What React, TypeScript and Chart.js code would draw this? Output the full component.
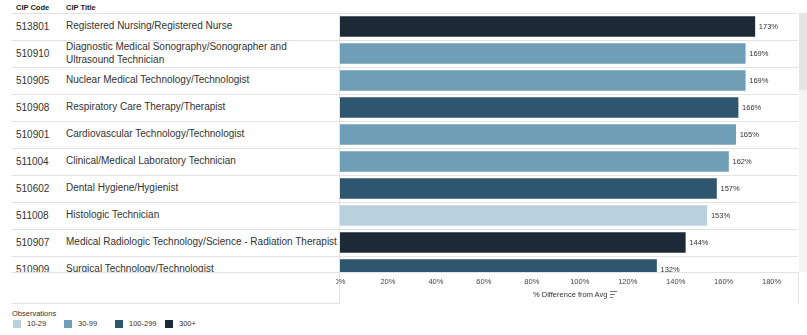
import React, { useEffect, useRef } from "react";
import { Chart, registerables } from "chart.js";

Chart.register(...registerables);

// Programs ranked by % difference from the average
const cipCodes = ["513801", "510910", "510905", "510908", "510901", "511004", "510602", "511008", "510907", "510909"];
const cipTitles = [
  "Registered Nursing/Registered Nurse",
  "Diagnostic Medical Sonography/Sonographer and\nUltrasound Technician",
  "Nuclear Medical Technology/Technologist",
  "Respiratory Care Therapy/Therapist",
  "Cardiovascular Technology/Technologist",
  "Clinical/Medical Laboratory Technician",
  "Dental Hygiene/Hygienist",
  "Histologic Technician",
  "Medical Radiologic Technology/Science - Radiation Therapist",
  "Surgical Technology/Technologist",
];
const pctDiffFromAvg = [173, 169, 169, 166, 165, 162, 157, 153, 144, 132];
const observationBands = ["300+", "30-99", "30-99", "100-299", "30-99", "30-99", "100-299", "10-29", "300+", "100-299"];
const bandLabels = ["10-29", "30-99", "100-299", "300+"];
const bandColors = ["#b9d1dd", "#6f9eb7", "#2e566e", "#1b2a36"];
const xTickValues = [0, 20, 40, 60, 80, 100, 120, 140, 160, 180];

const FONT = '"Liberation Sans", Arial, Helvetica, sans-serif';
const ROW_H = 27;
const VIEW_H = 259;
const LINE = "#e3e3e3";

const valueLabels = {
  id: "valueLabels",
  afterDatasetsDraw(chart: any) {
    const { ctx, chartArea } = chart;
    ctx.save();
    ctx.beginPath();
    ctx.rect(chartArea.left, chartArea.top, chartArea.right - chartArea.left, chartArea.bottom - chartArea.top);
    ctx.clip();
    ctx.font = `7.5px ${FONT}`;
    ctx.fillStyle = "#333";
    ctx.textAlign = "left";
    ctx.textBaseline = "middle";
    chart.getDatasetMeta(0).data.forEach((bar: any, i: number) => {
      ctx.fillText(`${pctDiffFromAvg[i]}%`, bar.x + 4, bar.y + 0.5);
    });
    ctx.restore();
  },
};

function SortIcon() {
  return (
    <svg width="8" height="7" style={{ marginLeft: 3, verticalAlign: "-1px" }}>
      <rect x="0" y="0" width="7" height="1" fill="#777" />
      <rect x="0" y="3" width="5" height="1" fill="#777" />
      <rect x="0" y="6" width="3" height="1" fill="#777" />
    </svg>
  );
}

export default function App() {
  const canvasRef = useRef<HTMLCanvasElement | null>(null);

  useEffect(() => {
    if (!canvasRef.current) return;
    Chart.defaults.font.family = FONT;
    const chart = new Chart(canvasRef.current, {
      type: "bar",
      data: {
        datasets: [
          {
            data: pctDiffFromAvg.map((v, i) => ({ x: v, y: i })),
            backgroundColor: observationBands.map((b) => bandColors[bandLabels.indexOf(b)]),
            borderWidth: 0,
            barThickness: 20,
            clip: 0,
          } as any,
        ],
      },
      options: {
        indexAxis: "y",
        animation: false,
        responsive: false,
        maintainAspectRatio: false,
        events: [],
        layout: { padding: { left: 4, right: 0, top: 0, bottom: 0 } },
        plugins: { legend: { display: false }, tooltip: { enabled: false } },
        scales: {
          x: {
            type: "linear",
            min: 0,
            max: 191,
            offset: false,
            grid: { display: false, drawTicks: false },
            border: { display: false },
            afterBuildTicks: (scale: any) => {
              scale.ticks = xTickValues.map((v) => ({ value: v }));
            },
            afterFit: (scale: any) => {
              scale.height = 31;
              scale.paddingLeft = 0;
              scale.paddingRight = 0;
            },
            ticks: {
              padding: 5,
              autoSkip: false,
              maxRotation: 0,
              color: "#444",
              font: { family: FONT, size: 7.5 },
              callback: (v: any) => `${v}%`,
            },
          },
          y: {
            type: "linear",
            reverse: true,
            offset: false,
            min: -0.5,
            max: -0.5 + VIEW_H / ROW_H,
            grid: { offset: false },
            display: false,
          },
        },
      } as any,
      plugins: [valueLabels],
    });
    return () => chart.destroy();
  }, []);

  const abs = (s: React.CSSProperties): React.CSSProperties => ({ position: "absolute", ...s });

  return (
    <div
      style={{
        position: "fixed",
        left: 0,
        top: 0,
        width: 807,
        height: 335,
        background: "#fff",
        fontFamily: FONT,
        color: "#333",
        overflow: "hidden",
      }}
    >
      <div style={abs({ left: 16, top: 3, fontSize: 7.5, fontWeight: "bold", color: "#222" })}>CIP Code</div>
      <div style={abs({ left: 66, top: 3, fontSize: 7.5, fontWeight: "bold", color: "#222" })}>CIP Title</div>

      <div style={abs({ left: 12, top: 13, width: 786, height: VIEW_H, overflow: "hidden" })}>
        {cipCodes.map((code, i) => (
          <div
            key={code}
            style={{
              position: "relative",
              height: ROW_H,
              boxSizing: "border-box",
              borderTop: `1px solid ${LINE}`,
            }}
          >
            <div style={abs({ left: 4, top: 0, height: 25, display: "flex", alignItems: "center", fontSize: 10 })}>
              {code}
            </div>
            <div
              style={abs({
                left: 54,
                top: 0,
                height: 25,
                display: "flex",
                alignItems: "center",
                fontSize: 10,
                lineHeight: "12.5px",
                whiteSpace: "pre",
              })}
            >
              {cipTitles[i]}
            </div>
          </div>
        ))}
      </div>
      <div style={abs({ left: 12, top: 272, width: 786, height: 1, background: LINE })} />
      <div style={abs({ left: 339, top: 13, width: 1, height: 290, background: LINE })} />
      <div style={abs({ left: 798, top: 272, width: 1, height: 31, background: LINE })} />
      <div style={abs({ left: 12, top: 303, width: 328, height: 1, background: LINE })} />

      <div style={abs({ left: 799, top: 13, width: 8, height: VIEW_H, background: "#f3f3f3" })} />
      <div style={abs({ left: 799, top: 13, width: 8, height: 77, background: "#e5e5e5" })} />

      <canvas
        ref={canvasRef}
        width={462}
        height={290}
        style={abs({ left: 336, top: 13, width: 462, height: 290 })}
      />

      <div style={abs({ left: 533, top: 290, fontSize: 7.5, whiteSpace: "nowrap", color: "#333" })}>
        % Difference from Avg
        <SortIcon />
      </div>

      <div style={abs({ left: 12, top: 309, fontSize: 7.5, color: "#333" })}>Observations</div>
      {bandLabels.map((b, i) => {
        const x = [13, 64, 115, 165][i];
        return (
          <React.Fragment key={b}>
            <div style={abs({ left: x, top: 320, width: 8, height: 8, background: bandColors[i] })} />
            <div style={abs({ left: x + 14, top: 319, fontSize: 7.5, color: "#333" })}>{b}</div>
          </React.Fragment>
        );
      })}
    </div>
  );
}
